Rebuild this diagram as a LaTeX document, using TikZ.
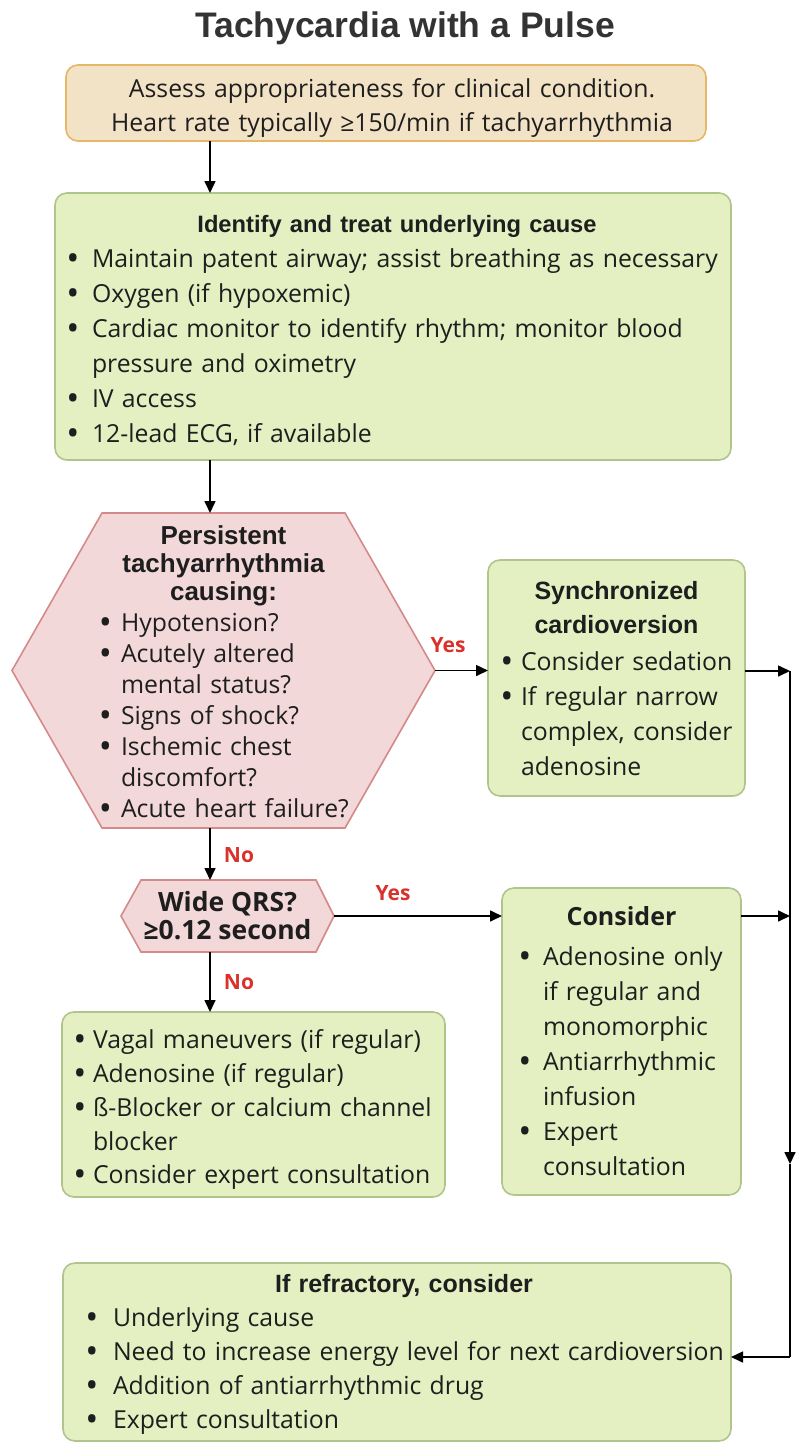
\documentclass[tikz,border=0pt]{standalone}
\usepackage{fontspec}
\usepackage{graphicx}
\setmainfont{Open Sans}
\newfontfamily\hdfont{Liberation Sans}
\usetikzlibrary{arrows.meta,calc,backgrounds}
\definecolor{gfill}{HTML}{E4F0C2}
\definecolor{gline}{HTML}{B0C58C}
\definecolor{tfill}{HTML}{F3E3C6}
\definecolor{tline}{HTML}{E6B766}
\definecolor{pfill}{HTML}{F3D8D9}
\definecolor{pline}{HTML}{D48A8B}
\definecolor{lblred}{HTML}{D9312B}
\definecolor{titlegray}{HTML}{333333}
\definecolor{txt}{HTML}{1E1E1E}
\newcommand\bul{\smash{\raisebox{-0.11em}{\scalebox{1.4}{•}}}}
\newcommand\bi[3]{\par\noindent\hspace*{#1}\makebox[0pt]{\bul}\hspace*{\dimexpr#2-#1\relax}\mbox{#3}}
\newcommand\ci[2]{\par\noindent\hspace*{#1}\mbox{#2}}
\newcommand\hdr[3]{{\centering\hdfont\bfseries\fontsize{#1}{#2}\selectfont #3\par}}
\begin{document}
\begin{tikzpicture}[x=1pt,y=-1pt,
  every node/.style={inner sep=0pt,outer sep=0pt,text=txt},
  gbox/.style={draw=gline,fill=gfill,line width=1.6pt,rounded corners=12pt},
  tbox/.style={draw=tline,fill=tfill,line width=1.6pt,rounded corners=12pt},
  pshape/.style={draw=pline,fill=pfill,line width=1.6pt},
  arr/.style={line width=1.6pt,-{Triangle[length=12pt,width=11pt]}},
  plain/.style={line width=1.6pt},
  lbl/.style={font=\bfseries\fontsize{21}{24}\selectfont,text=lblred},
  body/.style={font=\fontsize{24.8}{#1}\selectfont}
]
\begin{scope}[on background layer]
\fill[white] (0,0) rectangle (810,1456);
\end{scope}
\path[use as bounding box] (0,0) rectangle (810,1456);

% title
\node[font=\hdfont\bfseries\fontsize{35.5}{40}\selectfont,text=titlegray] (title) at (405,28) {Tachycardia with a Pulse};

% top box
\node[tbox,minimum width=640pt,minimum height=76pt,text width=640pt,body=34] (top) at (386,103)
 {\centering\hspace*{12pt}Assess appropriateness for clinical condition.\\\hspace*{12pt}Heart rate typically ≥150/min if tachyarrhythmia\par\vspace*{-10pt}};

% box 2
\node[gbox,minimum width=676pt,minimum height=267pt,text width=650pt,body=35] (cause) at (393,326.5)
 {\hdr{23.7}{35}{\hspace*{8pt}Identify and treat underlying cause}
  \bi{5pt}{24pt}{Maintain patent airway; assist breathing as necessary}
  \bi{5pt}{24pt}{Oxygen (if hypoxemic)}
  \bi{5pt}{24pt}{Cardiac monitor to identify rhythm; monitor blood}
  \ci{24pt}{pressure and oximetry}
  \bi{5pt}{24pt}{IV access}
  \bi{5pt}{24pt}{12-lead ECG, if available}\par\vspace*{-8pt}};

% hexagon
\node[minimum width=423pt,minimum height=315pt,text width=242pt,body=31] (hex) at (223.5,670.5)
 {\hdr{26}{28}{Persistent\\tachyarrhythmia\\causing:}
  \bi{3pt}{18.5pt}{Hypotension?}
  \bi{3pt}{18.5pt}{Acutely altered}
  \ci{18.5pt}{mental status?}
  \bi{3pt}{18.5pt}{Signs of shock?}
  \bi{3pt}{18.5pt}{Ischemic chest}
  \ci{18.5pt}{discomfort?}
  \bi{3pt}{18.5pt}{Acute heart failure?}\par\vspace*{-3pt}};
\begin{scope}[on background layer]
\path[pshape] (hex.west) -- ($(hex.north west)+(90,0)$) -- ($(hex.north east)+(-90,0)$) -- (hex.east)
  -- ($(hex.south east)+(-90,0)$) -- ($(hex.south west)+(90,0)$) -- cycle;
\end{scope}

% synchronized cardioversion
\node[gbox,minimum width=257pt,minimum height=236pt,text width=232pt,body=35] (sync) at (616.5,678)
 {\hdr{25}{34}{Synchronized\\cardioversion}\vskip2pt
  \bi{6.5pt}{20.5pt}{Consider sedation}
  \bi{6.5pt}{20.5pt}{If regular narrow}
  \ci{20.5pt}{complex, consider}
  \ci{20.5pt}{adenosine}\par\vspace*{-2pt}};

% wide QRS
\node[minimum width=213pt,minimum height=72pt,align=center,font=\bfseries\fontsize{26.5}{28}\selectfont] (wide) at (227.5,916)
 {Wide QRS?\\≥0.12 second};
\begin{scope}[on background layer]
\path[pshape] (wide.west) -- ($(wide.north west)+(20,0)$) -- ($(wide.north east)+(-18,0)$) -- (wide.east)
  -- ($(wide.south east)+(-18,0)$) -- ($(wide.south west)+(20,0)$) -- cycle;
\end{scope}

% consider
\node[gbox,minimum width=239pt,minimum height=307pt,text width=203pt,body=35] (cons) at (621.5,1041.5)
 {{\centering\bfseries\fontsize{25}{35}\selectfont Consider\par}\vskip5pt
  \bi{5pt}{23pt}{Adenosine only}
  \ci{23pt}{if regular and}
  \ci{23pt}{monomorphic}
  \bi{5pt}{23pt}{Antiarrhythmic}
  \ci{23pt}{infusion}
  \bi{5pt}{23pt}{Expert}
  \ci{23pt}{consultation}};

% vagal
\node[gbox,minimum width=383pt,minimum height=185pt,text width=355pt,body=33.7] (vagal) at (253.5,1104.5)
 {\bi{4pt}{17pt}{Vagal maneuvers (if regular)}
  \bi{4pt}{17pt}{Adenosine (if regular)}
  \bi{4pt}{17pt}{ß-Blocker or calcium channel}
  \ci{17pt}{blocker}
  \bi{4pt}{17pt}{Consider expert consultation}\par\vspace*{4pt}};

% refractory
\node[gbox,minimum width=668pt,minimum height=178pt,text width=620pt,body=34] (refr) at (397,1352)
 {\hdr{25}{35}{\hspace*{14pt}If refractory, consider}
  \bi{5pt}{26pt}{Underlying cause}
  \bi{5pt}{26pt}{Need to increase energy level for next cardioversion}
  \bi{5pt}{26pt}{Addition of antiarrhythmic drug}
  \bi{5pt}{26pt}{Expert consultation}\par\vspace*{-5pt}};

% helper coordinates
\coordinate (col) at (210,0);
\coordinate (railtop) at (790,671);
\coordinate (railmid) at (790,1164);
\coordinate (railbot) at (790,1357);

% connectors
\draw[arr] (col |- top.south) -- (col |- cause.north);
\draw[arr] (col |- cause.south) -- (col |- hex.north);
\draw[arr] (hex.east) -- (hex.east -| sync.west);
\draw[arr] (col |- hex.south) -- (col |- wide.north);
\draw[arr] (wide.east) -- (wide.east -| cons.west);
\draw[arr] (col |- wide.south) -- (col |- vagal.north);
\draw[arr] (railtop -| sync.east) -- (railtop);
\draw[arr] (wide.east -| cons.east) -- (wide.east -| railtop);
\draw[arr] (railtop) -- (railmid);
\draw[plain] (railmid) -- (railbot);
\draw[arr] (railbot) -- (railbot -| refr.east);

% labels
\node[lbl] (yes1) at (448,645) {Yes};
\node[lbl] (yes2) at (393,893) {Yes};
\node[lbl] (no1) at (239,855) {No};
\node[lbl] (no2) at (239,982) {No};
\end{tikzpicture}
\end{document}
